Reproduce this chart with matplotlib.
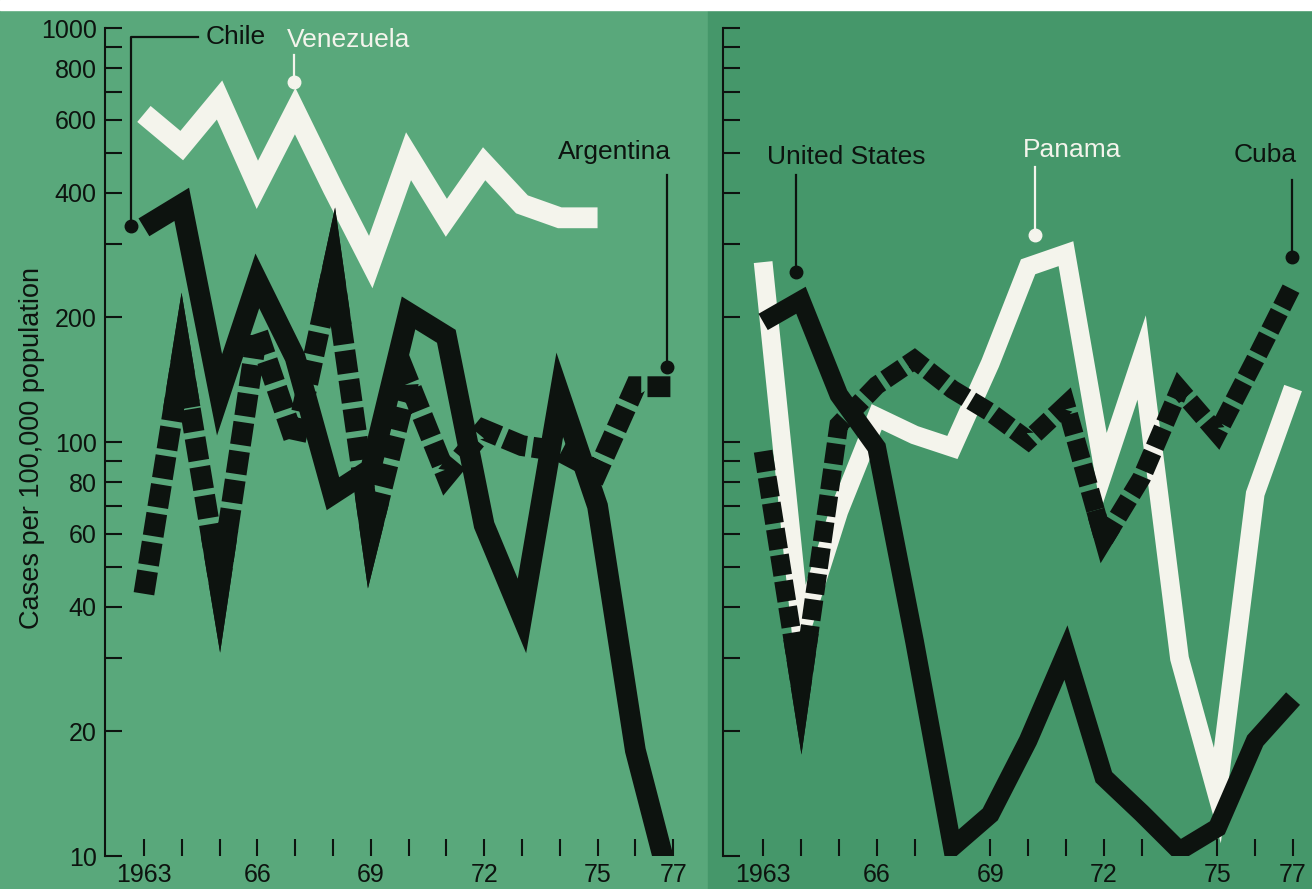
import numpy as np
import matplotlib.pyplot as plt
from matplotlib.patches import Rectangle
from matplotlib.ticker import FixedLocator, NullFormatter

# cases per 100,000 population
years = np.arange(1963, 1978)
venezuela = [620, 520, 670, 418, 630, 410, 272, 490, 348, 470, 375, 348, 348]   # 1963-75
chile = [330, 375, 130, 245, 160, 75, 86, 205, 180, 63, 38, 130, 70, 18, 8]
argentina = [43, 160, 45, 185, 100, 265, 60, 140, 83, 107, 98, 95, 85, 136, 136]

panama = [272, 35, 68, 115, 104, 97, 155, 265, 285, 85, 160, 30, 14, 75, 135]
united_states = [195, 220, 130, 97, 33, 10.5, 12.6, 19, 31, 15.5, 12.7, 10.3, 11.7, 19, 24]
cuba = [95, 25, 110, 137, 158, 134, 118, 101, 123, 58, 82, 134, 105, 158, 240]

y_ticks = [10, 20, 40, 60, 80, 100, 200, 400, 600, 800, 1000]
y_minor = [30, 50, 70, 90, 300, 500, 700, 900]
x_labels = {1963: "1963", 1966: "66", 1969: "69", 1972: "72", 1975: "75", 1977: "77"}

GREEN = '#59a87b'
GREEN_DARK = '#45976a'
WHITE = '#f4f4ec'
INK = '#0d130f'

plt.rcParams['font.family'] = ['Liberation Sans', 'DejaVu Sans']

fig = plt.figure(figsize=(13.12, 8.89), dpi=100, facecolor=GREEN)
fig.add_artist(Rectangle((0.54, 0), 0.46, 1, transform=fig.transFigure,
                         color=GREEN_DARK, zorder=-10))
fig.add_artist(Rectangle((0, 1 - 10 / 889), 1, 10 / 889, transform=fig.transFigure,
                         color='white', zorder=-5))

ax1 = fig.add_axes([105 / 1312, 33 / 889, 595 / 1312, 828 / 889])
ax2 = fig.add_axes([723 / 1312, 33 / 889, 589 / 1312, 828 / 889])


def style_axis(ax, xlim, show_labels):
    ax.set_facecolor('none')
    ax.set_yscale('log')
    ax.set_ylim(10, 1000)
    ax.set_xlim(*xlim)
    for s in ['top', 'right', 'bottom']:
        ax.spines[s].set_visible(False)
    ax.spines['left'].set_linewidth(1.5)
    ax.spines['left'].set_color(INK)
    ax.yaxis.set_major_locator(FixedLocator(y_ticks))
    ax.yaxis.set_minor_locator(FixedLocator(y_minor))
    ax.yaxis.set_minor_formatter(NullFormatter())
    ax.set_yticklabels([str(v) for v in y_ticks])
    ax.tick_params(axis='y', which='both', direction='in', length=12, width=1.5,
                   color=INK, labelsize=18, labelcolor=INK, pad=6,
                   labelleft=show_labels)
    ax.set_xticks(years)
    ax.set_xticklabels([x_labels.get(y, '') for y in years])
    ax.tick_params(axis='x', direction='in', length=12, width=1.5, color=INK,
                   labelsize=18, labelcolor=INK, pad=5)


style_axis(ax1, (1961.97, 1977.71), True)
style_axis(ax2, (1961.94, 1977.50), False)

solid = dict(solid_joinstyle='miter', solid_capstyle='butt')
dashed = dict(dashes=(1.1, 0.3), dash_joinstyle='miter', dash_capstyle='butt')


def solid_tips(ax, xs, ys, idx, lw, frac=0.22):
    # the dashed lines run solid into their sharp turns
    ly = np.log10(ys)
    for i in idx:
        px = [xs[i] - frac * (xs[i] - xs[i - 1]), xs[i], xs[i] + frac * (xs[i + 1] - xs[i])]
        py = [ly[i] - frac * (ly[i] - ly[i - 1]), ly[i], ly[i] + frac * (ly[i + 1] - ly[i])]
        ax.plot(px, 10 ** np.array(py), color=INK, lw=lw, zorder=2, **solid)


# left panel
ax1.plot(years[:len(venezuela)], venezuela, color=WHITE, lw=15, zorder=2, **solid)
ax1.plot(years, argentina, color=INK, lw=15, zorder=2, **dashed)
solid_tips(ax1, years, argentina, [1, 2, 5, 6], 15)
ax1.plot(years, chile, color=INK, lw=15, zorder=3, **solid)

# right panel
ax2.plot(years, panama, color=WHITE, lw=13.5, zorder=1, **solid)
ax2.plot(years, cuba, color=INK, lw=13.5, zorder=2, **dashed)
solid_tips(ax2, years, cuba, [1, 9], 13.5)
ax2.plot(years, united_states, color=INK, lw=13.5, zorder=3, **solid)

ax1.set_ylabel('Cases per 100,000 population', fontsize=19.5, color=INK)
ax1.yaxis.set_label_coords(-0.101, 0.493)


def callout(ax, dot, top, text_xy, text, color, ha='center', elbow=None):
    xs = [dot[0], dot[0]]
    ys = [dot[1], top]
    if elbow is not None:
        xs.append(elbow)
        ys.append(top)
    ax.plot(xs, ys, color=color, lw=1.6, clip_on=False, zorder=5)
    ax.plot(*dot, 'o', ms=9, color=color, clip_on=False, zorder=5)
    ax.text(*text_xy, text, color=color, fontsize=19, ha=ha, va='center', zorder=5)


callout(ax1, (1962.66, 332), 951, (1964.62, 951), 'Chile', INK, ha='left', elbow=1964.43)
callout(ax1, (1966.97, 741), 861, (1966.78, 935), 'Venezuela', WHITE, ha='left')
callout(ax1, (1976.84, 152), 442, (1975.46, 502), 'Argentina', INK)

callout(ax2, (1963.87, 258), 442, (1965.19, 488), 'United States', INK)
callout(ax2, (1970.18, 316), 461, (1971.16, 507), 'Panama', WHITE)
callout(ax2, (1976.97, 280), 430, (1976.26, 493), 'Cuba', INK)

fig.savefig('out.png', dpi=100, facecolor=fig.get_facecolor())
